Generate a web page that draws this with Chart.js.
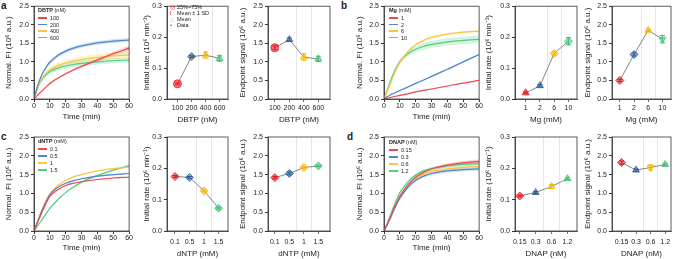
<!DOCTYPE html>
<html>
<head>
<meta charset="utf-8">
<script src="https://cdn.jsdelivr.net/npm/chart.js@4.4.0/dist/chart.umd.min.js"></script>
<style>
  body { margin: 0; background: #fff; width: 678px; height: 259px; position: relative; overflow: hidden;
         font-family: "Liberation Sans", Arial, sans-serif; color: #222; }
  canvas { position: absolute; }
  .letter { position: absolute; font-weight: bold; font-size: 10px; line-height: 10px; }
  .leg { position: absolute; font-size: 5.5px; line-height: 6px; white-space: nowrap; }
  .sw { position: absolute; width: 9px; height: 1.6px; }
</style>
</head>
<body>
<div class="letter" style="left:1px;top:1px">a</div>
<div class="letter" style="left:341px;top:1px">b</div>
<div class="letter" style="left:1px;top:132px">c</div>
<div class="letter" style="left:347px;top:132px">d</div>

<canvas id="aLine"></canvas><canvas id="aRate"></canvas><canvas id="aEnd"></canvas>
<canvas id="bLine"></canvas><canvas id="bRate"></canvas><canvas id="bEnd"></canvas>
<canvas id="cLine"></canvas><canvas id="cRate"></canvas><canvas id="cEnd"></canvas>
<canvas id="dLine"></canvas><canvas id="dRate"></canvas><canvas id="dEnd"></canvas>

<script>
// time points (min)
const T = [0, 2, 4, 6, 8, 10, 15, 20, 25, 30, 40, 50, 60];

// a: DBTP (nM)
const dbtpLabels = ['100', '200', '400', '600'];
const dbtpFI100 = [0, 0.09, 0.18, 0.26, 0.34, 0.42, 0.56, 0.68, 0.79, 0.88, 1.05, 1.22, 1.37];
const dbtpSD100 = [0, 0.01, 0.01, 0.01, 0.02, 0.02, 0.02, 0.02, 0.03, 0.03, 0.04, 0.05, 0.07];
const dbtpFI200 = [0, 0.32, 0.56, 0.74, 0.88, 0.99, 1.17, 1.29, 1.37, 1.43, 1.51, 1.56, 1.59];
const dbtpSD200 = [0, 0.02, 0.03, 0.04, 0.04, 0.05, 0.05, 0.05, 0.05, 0.05, 0.05, 0.05, 0.05];
const dbtpFI400 = [0, 0.27, 0.47, 0.61, 0.71, 0.78, 0.9, 0.97, 1.02, 1.06, 1.12, 1.16, 1.19];
const dbtpSD400 = [0, 0.03, 0.05, 0.06, 0.07, 0.08, 0.08, 0.08, 0.08, 0.09, 0.09, 0.09, 0.09];
const dbtpFI600 = [0, 0.27, 0.46, 0.58, 0.67, 0.74, 0.83, 0.89, 0.93, 0.96, 1.0, 1.03, 1.05];
const dbtpSD600 = [0, 0.03, 0.05, 0.06, 0.06, 0.07, 0.07, 0.07, 0.07, 0.07, 0.07, 0.07, 0.07];
const dbtpRate = [0.049, 0.137, 0.142, 0.131];
const dbtpRateSD = [0.003, 0.003, 0.01, 0.009];
const dbtpEnd = [1.38, 1.6, 1.13, 1.08];
const dbtpEndSD = [0.05, 0.04, 0.09, 0.07];

// b: Mg (mM)
const mgLabels = ['1', '2', '6', '10'];
const mgFI1 = [0, 0.02, 0.04, 0.06, 0.08, 0.1, 0.14, 0.19, 0.23, 0.27, 0.35, 0.43, 0.5];
const mgSD1 = [0, 0.005, 0.005, 0.01, 0.01, 0.01, 0.01, 0.01, 0.01, 0.01, 0.01, 0.01, 0.01];
const mgFI2 = [0, 0.06, 0.11, 0.15, 0.19, 0.23, 0.32, 0.42, 0.51, 0.61, 0.8, 1.0, 1.2];
const mgSD2 = [0, 0.01, 0.01, 0.01, 0.02, 0.02, 0.02, 0.02, 0.02, 0.02, 0.02, 0.02, 0.02];
const mgFI6 = [0, 0.2, 0.42, 0.63, 0.82, 0.98, 1.27, 1.46, 1.58, 1.66, 1.75, 1.8, 1.83];
const mgSD6 = [0, 0.01, 0.02, 0.02, 0.03, 0.03, 0.03, 0.03, 0.03, 0.03, 0.03, 0.03, 0.03];
const mgFI10 = [0, 0.24, 0.48, 0.69, 0.87, 1.01, 1.22, 1.34, 1.42, 1.47, 1.54, 1.58, 1.61];
const mgSD10 = [0, 0.02, 0.03, 0.04, 0.05, 0.06, 0.07, 0.08, 0.09, 0.09, 0.1, 0.1, 0.1];
const mgRate = [0.02, 0.043, 0.147, 0.187];
const mgRateSD = [0.003, 0.004, 0.005, 0.012];
const mgEnd = [0.5, 1.2, 1.85, 1.61];
const mgEndSD = [0.03, 0.04, 0.03, 0.1];

// c: dNTP (mM)
const dntpLabels = ['0.1', '0.5', '1', '1.5'];
const dntpFI01 = [0, 0.2, 0.4, 0.59, 0.77, 0.92, 1.1, 1.21, 1.27, 1.31, 1.37, 1.41, 1.43];
const dntpFI05 = [0, 0.22, 0.44, 0.64, 0.82, 0.97, 1.16, 1.27, 1.34, 1.39, 1.46, 1.5, 1.53];
const dntpFI1 = [0, 0.22, 0.45, 0.66, 0.84, 0.99, 1.21, 1.35, 1.44, 1.5, 1.6, 1.66, 1.7];
const dntpFI15 = [0, 0.12, 0.24, 0.36, 0.48, 0.6, 0.83, 1.02, 1.17, 1.3, 1.48, 1.62, 1.74];
const dntpSD = [0, 0.01, 0.01, 0.01, 0.015, 0.015, 0.015, 0.015, 0.015, 0.015, 0.015, 0.015, 0.015];
const dntpRate = [0.174, 0.171, 0.128, 0.073];
const dntpRateSD = [0.003, 0.003, 0.003, 0.003];
const dntpEnd = [1.42, 1.53, 1.69, 1.73];
const dntpEndSD = [0.03, 0.04, 0.02, 0.02];

// d: DNAP (nM)
const dnapLabels = ['0.15', '0.3', '0.6', '1.2'];
const dnapFI015 = [0, 0.18, 0.38, 0.58, 0.76, 0.92, 1.22, 1.43, 1.56, 1.65, 1.75, 1.81, 1.85];
const dnapFI03 = [0, 0.16, 0.34, 0.53, 0.71, 0.87, 1.16, 1.35, 1.46, 1.53, 1.6, 1.63, 1.65];
const dnapFI06 = [0, 0.17, 0.37, 0.57, 0.76, 0.92, 1.21, 1.4, 1.51, 1.58, 1.65, 1.69, 1.72];
const dnapFI12 = [0, 0.2, 0.42, 0.64, 0.84, 1.02, 1.3, 1.49, 1.6, 1.66, 1.73, 1.77, 1.79];
const dnapSD = [0, 0.01, 0.02, 0.03, 0.03, 0.04, 0.04, 0.04, 0.04, 0.04, 0.05, 0.05, 0.05];
const dnapRate = [0.112, 0.123, 0.142, 0.167];
const dnapRateSD = [0.003, 0.003, 0.006, 0.003];
const dnapEnd = [1.82, 1.62, 1.69, 1.77];
const dnapEndSD = [0.04, 0.03, 0.07, 0.03];

const fiTicks = [0, 0.5, 1, 1.5, 2, 2.5];
const rateTicks = [0, 0.1, 0.2, 0.3];
const timeTicks = [0, 10, 20, 30, 40, 50, 60];

const lineCols = ['#f0474c', '#4e86d0', '#f6c744', '#4fcf80'];
const markCols = ['#e8121c', '#2c5b98', '#f6b600', '#3cc377'];
const INK = '#222';
const TICK = 7;
const TITLE = 8;

function rgba(hex, a) {
  const n = parseInt(hex.slice(1), 16);
  return `rgba(${n >> 16},${(n >> 8) & 255},${n & 255},${a})`;
}

// frame around plot area
const frame = {
  id: 'frame',
  afterDraw(chart) {
    const { ctx, chartArea: c } = chart;
    ctx.save();
    ctx.strokeStyle = '#333';
    ctx.lineWidth = 0.8;
    ctx.strokeRect(c.left, c.top, c.right - c.left, c.bottom - c.top);
    ctx.restore();
  }
};

// canvas placement: [left, width, yAxisWidth]
const cols = {
  line1: [4, 129, 30], rate1: [142, 91, 25], end1: [238, 97, 30],
  line2: [355, 128, 29], rate2: [484, 98, 31], end2: [583, 93, 29]
};
const rows = {
  1: { top: 0, h: 129, padTop: 5, xh: 30, lineTitle: 7, grpTitle: 4, lineTick: 0, grpTick: 2 },
  2: { top: 130, h: 129, padTop: 7, xh: 28, lineTitle: 6, grpTitle: 0, lineTick: 0, grpTick: 3.5 }
};

function place(id, col, row) {
  const cv = document.getElementById(id);
  const [l, w] = cols[col];
  cv.width = w; cv.height = rows[row].h;
  cv.style.left = l + 'px'; cv.style.top = rows[row].top + 'px';
  return cv;
}

function yScale(col, ticks, title) {
  return {
    min: ticks[0], max: ticks[ticks.length - 1],
    afterFit: s => { s.width = cols[col][2]; },
    afterBuildTicks: s => { s.ticks = ticks.map(v => ({ value: v })); },
    ticks: { font: { size: TICK }, color: INK, padding: 2, callback: v => v.toFixed(1) },
    grid: { drawOnChartArea: false, tickLength: 3, color: '#333' },
    border: { color: '#333', width: 0.8 },
    title: { display: true, text: title, font: { size: TITLE }, color: INK, padding: { top: 0, bottom: 0 } }
  };
}

function fiChart(id, col, row, series) {
  const r = rows[row];
  const ds = [];
  series.forEach(([m, sd], i) => {
    ds.push({ data: T.map((t, k) => ({ x: t, y: m[k] - sd[k] })), borderWidth: 0, pointRadius: 0, fill: false, order: 2 });
    ds.push({ data: T.map((t, k) => ({ x: t, y: m[k] + sd[k] })), borderWidth: 0, pointRadius: 0,
              fill: '-1', backgroundColor: rgba(lineCols[i], 0.25), order: 2 });
  });
  series.forEach(([m], i) => {
    ds.push({ data: T.map((t, k) => ({ x: t, y: m[k] })), borderColor: lineCols[i], borderWidth: 1.2,
              pointRadius: 0, fill: false, cubicInterpolationMode: 'monotone', order: 1 });
  });
  new Chart(place(id, col, row), {
    type: 'line',
    data: { datasets: ds },
    plugins: [frame],
    options: {
      responsive: false, animation: false, events: [],
      layout: { padding: { top: r.padTop, right: 3, left: 0, bottom: 0 } },
      plugins: { legend: { display: false }, tooltip: { enabled: false } },
      scales: {
        x: {
          type: 'linear', min: 0, max: 60,
          afterFit: s => { s.height = r.xh; },
          afterBuildTicks: s => { s.ticks = timeTicks.map(v => ({ value: v })); },
          ticks: { font: { size: TICK }, color: INK, padding: r.lineTick, maxRotation: 0 },
          grid: { drawOnChartArea: false, tickLength: 3, color: '#333' },
          border: { color: '#333', width: 0.8 },
          title: { display: true, text: 'Time (min)', font: { size: TITLE }, color: INK, padding: { top: 0, bottom: r.lineTitle } }
        },
        y: yScale(col, fiTicks, 'Normal. FI (10\u2076 a.u.)')
      }
    }
  });
}

function groupChart(id, col, row, xr, vals, sds, labels, xTitle, yTicks, yTitle, shapes, rots) {
  const r = rows[row];
  const ds = [{ type: 'line', data: vals.map((v, i) => ({ x: i, y: v })), borderColor: '#666',
                borderWidth: 0.8, pointRadius: 0, order: 3 }];
  vals.forEach((v, i) => {
    ds.push({ type: 'line', data: [{ x: i, y: v - sds[i] }, { x: i, y: v + sds[i] }], borderColor: markCols[i],
              borderWidth: 1, pointStyle: 'line', pointRadius: 2.5, pointBorderColor: markCols[i],
              pointBorderWidth: 1, order: 2 });
    ds.push({ type: 'scatter', data: [{ x: i, y: v }], pointStyle: shapes[i], rotation: rots ? rots[i] : 0,
              pointRadius: 4, backgroundColor: rgba(markCols[i], 0.55), borderColor: markCols[i],
              borderWidth: 0.8, order: 1 });
  });
  new Chart(place(id, col, row), {
    type: 'scatter',
    data: { datasets: ds },
    plugins: [frame],
    options: {
      responsive: false, animation: false, events: [],
      layout: { padding: { top: r.padTop, right: 3, left: 0, bottom: 0 } },
      plugins: { legend: { display: false }, tooltip: { enabled: false } },
      scales: {
        x: {
          type: 'linear', min: xr[0], max: xr[1],
          afterFit: s => { s.height = r.xh; },
          afterBuildTicks: s => { s.ticks = [0, 1, 1.5, 2, 2.5, 3].map(v => ({ value: v })); },
          ticks: { font: { size: TICK }, color: INK, padding: r.grpTick, maxRotation: 0, autoSkip: false,
                   callback: v => Number.isInteger(v) ? labels[v] : '' },
          grid: { drawOnChartArea: true, tickLength: 3,
                  color: c => Number.isInteger(c.tick.value) ? 'rgba(0,0,0,0)' : '#dcdcdc',
                  tickColor: c => Number.isInteger(c.tick.value) ? '#333' : 'rgba(0,0,0,0)',
                  lineWidth: 0.7 },
          border: { color: '#333', width: 0.8 },
          title: { display: true, text: xTitle, font: { size: TITLE }, color: INK, padding: { top: 0, bottom: r.grpTitle } }
        },
        y: yScale(col, yTicks, yTitle)
      }
    }
  });
}

function legend(x, y, title, labels, gap) {
  const t = document.createElement('div');
  t.className = 'leg';
  t.style.left = x + 'px'; t.style.top = (y - 3) + 'px';
  t.innerHTML = '<b>' + title.split(' ')[0] + '</b> ' + title.split(' ').slice(1).join(' ');
  document.body.appendChild(t);
  labels.forEach((lab, i) => {
    const cy = y + 8 + i * gap;
    const sw = document.createElement('div');
    sw.className = 'sw';
    sw.style.left = x + 'px'; sw.style.top = (cy - 0.8) + 'px'; sw.style.background = lineCols[i];
    document.body.appendChild(sw);
    const d = document.createElement('div');
    d.className = 'leg';
    d.style.left = (x + 12) + 'px'; d.style.top = (cy - 3) + 'px';
    d.textContent = lab;
    document.body.appendChild(d);
  });
}

const rateTitle = 'Initial rate (10\u2076 min\u207B\u00B9)';
const endTitle = 'Endpoint signal (10\u2076 a.u.)';

fiChart('aLine', 'line1', 1, [[dbtpFI100, dbtpSD100], [dbtpFI200, dbtpSD200], [dbtpFI400, dbtpSD400], [dbtpFI600, dbtpSD600]]);
groupChart('aRate', 'rate1', 1, [-0.75, 3.6], dbtpRate, dbtpRateSD, dbtpLabels, 'DBTP (nM)', rateTicks, rateTitle,
  ['circle', 'rectRot', 'triangle', 'triangle']);
groupChart('aEnd', 'end1', 1, [-0.47, 3.8], dbtpEnd, dbtpEndSD, dbtpLabels, 'DBTP (nM)', fiTicks, endTitle,
  ['circle', 'triangle', 'triangle', 'triangle']);

fiChart('bLine', 'line2', 1, [[mgFI1, mgSD1], [mgFI2, mgSD2], [mgFI6, mgSD6], [mgFI10, mgSD10]]);
groupChart('bRate', 'rate2', 1, [-0.75, 3.6], mgRate, mgRateSD, mgLabels, 'Mg (mM)', rateTicks, rateTitle,
  ['triangle', 'triangle', 'rectRot', 'rectRot']);
groupChart('bEnd', 'end2', 1, [-0.55, 3.6], mgEnd, mgEndSD, mgLabels, 'Mg (mM)', fiTicks, endTitle,
  ['rectRot', 'rectRot', 'triangle', 'triangle'], [0, 0, 0, 180]);

fiChart('cLine', 'line1', 2, [[dntpFI01, dntpSD], [dntpFI05, dntpSD], [dntpFI1, dntpSD], [dntpFI15, dntpSD]]);
groupChart('cRate', 'rate1', 2, [-0.55, 3.65], dntpRate, dntpRateSD, dntpLabels, 'dNTP (mM)', rateTicks, rateTitle,
  ['rectRot', 'rectRot', 'rectRot', 'rectRot']);
groupChart('cEnd', 'end1', 2, [-0.47, 3.8], dntpEnd, dntpEndSD, dntpLabels, 'dNTP (mM)', fiTicks, endTitle,
  ['rectRot', 'rectRot', 'rectRot', 'rectRot']);

fiChart('dLine', 'line2', 2, [[dnapFI015, dnapSD], [dnapFI03, dnapSD], [dnapFI06, dnapSD], [dnapFI12, dnapSD]]);
groupChart('dRate', 'rate2', 2, [-0.3, 3.6], dnapRate, dnapRateSD, dnapLabels, 'DNAP (nM)', rateTicks, rateTitle,
  ['rectRot', 'triangle', 'triangle', 'triangle']);
groupChart('dEnd', 'end2', 2, [-0.65, 3.4], dnapEnd, dnapEndSD, dnapLabels, 'DNAP (nM)', fiTicks, endTitle,
  ['rectRot', 'triangle', 'triangle', 'triangle'], [0, 0, 180, 0]);

legend(38, 10, 'DBTP (nM)', dbtpLabels, 6.5);
legend(389, 10, 'Mg (mM)', mgLabels, 6.5);
legend(38, 141, 'dNTP (mM)', dntpLabels, 7);
legend(389, 142, 'DNAP (nM)', dnapLabels, 7);

// box chart key (panel a, initial rate)
const key = [['\u25CE', '25%~75%'], ['I', 'Mean \u00B1 1 SD'], ['\u25B3', 'Mean'], ['\u2022', 'Data']];
key.forEach(([sym, txt], i) => {
  const s = document.createElement('div');
  s.className = 'leg';
  s.style.left = '170px'; s.style.top = (4 + i * 6) + 'px';
  s.style.color = i === 2 ? '#f0b0b0' : markCols[0];
  s.textContent = sym;
  document.body.appendChild(s);
  const d = document.createElement('div');
  d.className = 'leg';
  d.style.left = '177px'; d.style.top = (4 + i * 6) + 'px';
  d.textContent = txt;
  document.body.appendChild(d);
});
</script>
</body>
</html>
